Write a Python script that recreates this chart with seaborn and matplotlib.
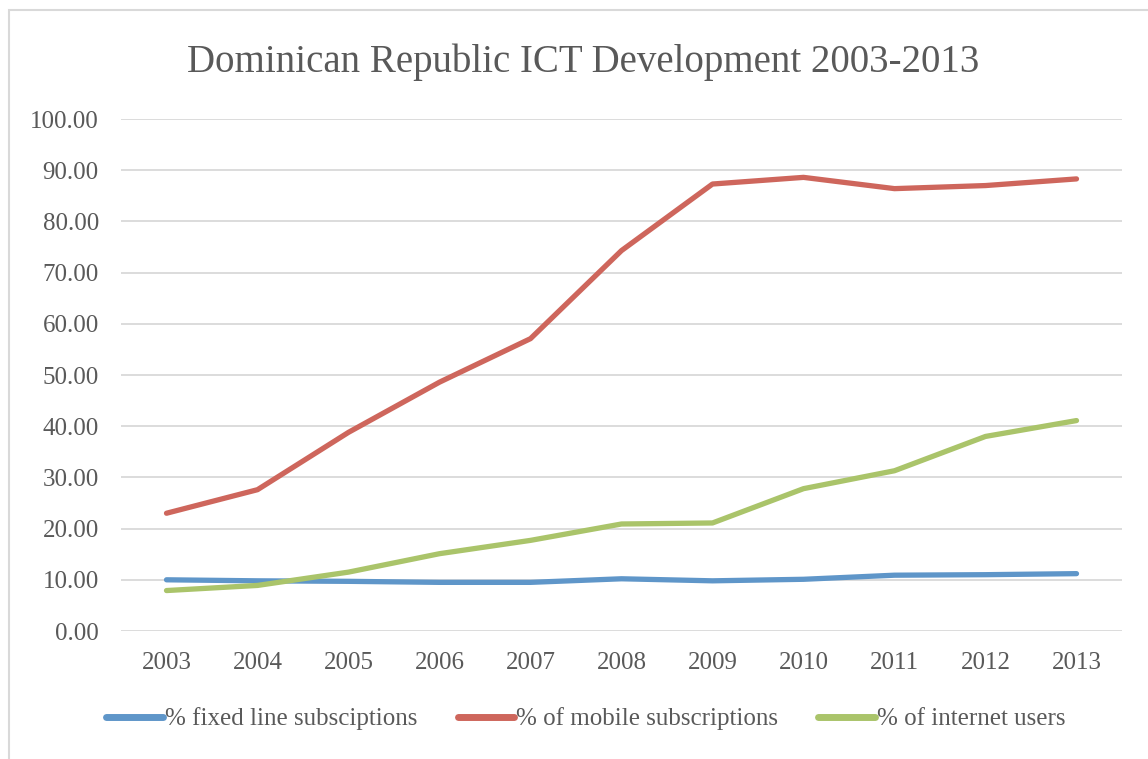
import matplotlib
matplotlib.use("Agg")
import matplotlib.pyplot as plt
import seaborn as sns
import pandas as pd
from matplotlib.patches import Rectangle
from matplotlib.ticker import FormatStrFormatter

years = [2003, 2004, 2005, 2006, 2007, 2008, 2009, 2010, 2011, 2012, 2013]
fixed_line = [10.0, 9.8, 9.7, 9.5, 9.5, 10.2, 9.8, 10.1, 10.9, 11.0, 11.2]
mobile = [23.0, 27.6, 38.8, 48.6, 57.1, 74.3, 87.3, 88.6, 86.4, 87.0, 88.3]
internet = [7.9, 8.9, 11.5, 15.1, 17.7, 20.9, 21.1, 27.8, 31.3, 38.0, 41.1]
series_names = ["% fixed line subsciptions", "% of mobile subscriptions", "% of internet users"]
title = "Dominican Republic ICT Development 2003-2013"

df = pd.concat([
    pd.DataFrame({"year": years, "value": vals, "series": name})
    for name, vals in zip(series_names, [fixed_line, mobile, internet])
])

sns.set_theme(style="white")
plt.rcParams["font.family"] = ["Liberation Serif", "DejaVu Serif"]
txt = "#595959"

W, H = 1148, 759
fig = plt.figure(figsize=(W / 100, H / 100), dpi=100)
fig.patch.set_facecolor("white")
fig.patches.append(Rectangle((9 / W, -0.1), 1.2, 1 - 10 / H + 0.1, transform=fig.transFigure,
                             fill=False, edgecolor="#d9d9d9", linewidth=1.5))

ax = fig.add_axes([121 / W, 1 - 631 / H, 1001 / W, 512 / H])
palette = ["#5f96c9", "#ce665c", "#aac46a"]
sns.lineplot(data=df, x="year", y="value", hue="series", palette=palette, ax=ax,
             linewidth=3.8, legend=True)
for ln in ax.lines:
    ln.set_solid_capstyle("round")

ax.set_xlim(2002.5, 2013.5)
ax.set_ylim(0, 100)
ax.set_yticks(range(0, 101, 10))
ax.set_xticks(years)
ax.yaxis.set_major_formatter(FormatStrFormatter("%.2f"))
ax.grid(axis="y", color="#d9d9d9", linewidth=1.3)
ax.grid(axis="x", visible=False)
ax.set_axisbelow(True)
for s in ax.spines.values():
    s.set_visible(False)
ax.tick_params(axis="y", length=0, pad=16, labelsize=18, labelcolor=txt)
ax.tick_params(axis="x", length=0, pad=15, labelsize=18, labelcolor=txt)
ax.set_xlabel("")
ax.set_ylabel("")

handles, labels = ax.get_legend_handles_labels()
ax.get_legend().remove()
leg = fig.legend(handles, labels, loc="center", bbox_to_anchor=(586 / W, 1 - 719 / H),
                 ncol=3, frameon=False, fontsize=18, handlelength=2.25,
                 handletextpad=0.1, columnspacing=1.6, labelcolor=txt)
for h in leg.legend_handles:
    h.set_linewidth(5)
    h.set_solid_capstyle("round")

fig.text(583 / W, 1 - 62 / H, title, ha="center", va="center", fontsize=28, color=txt)

fig.savefig("out.png", dpi=100, facecolor="white")
